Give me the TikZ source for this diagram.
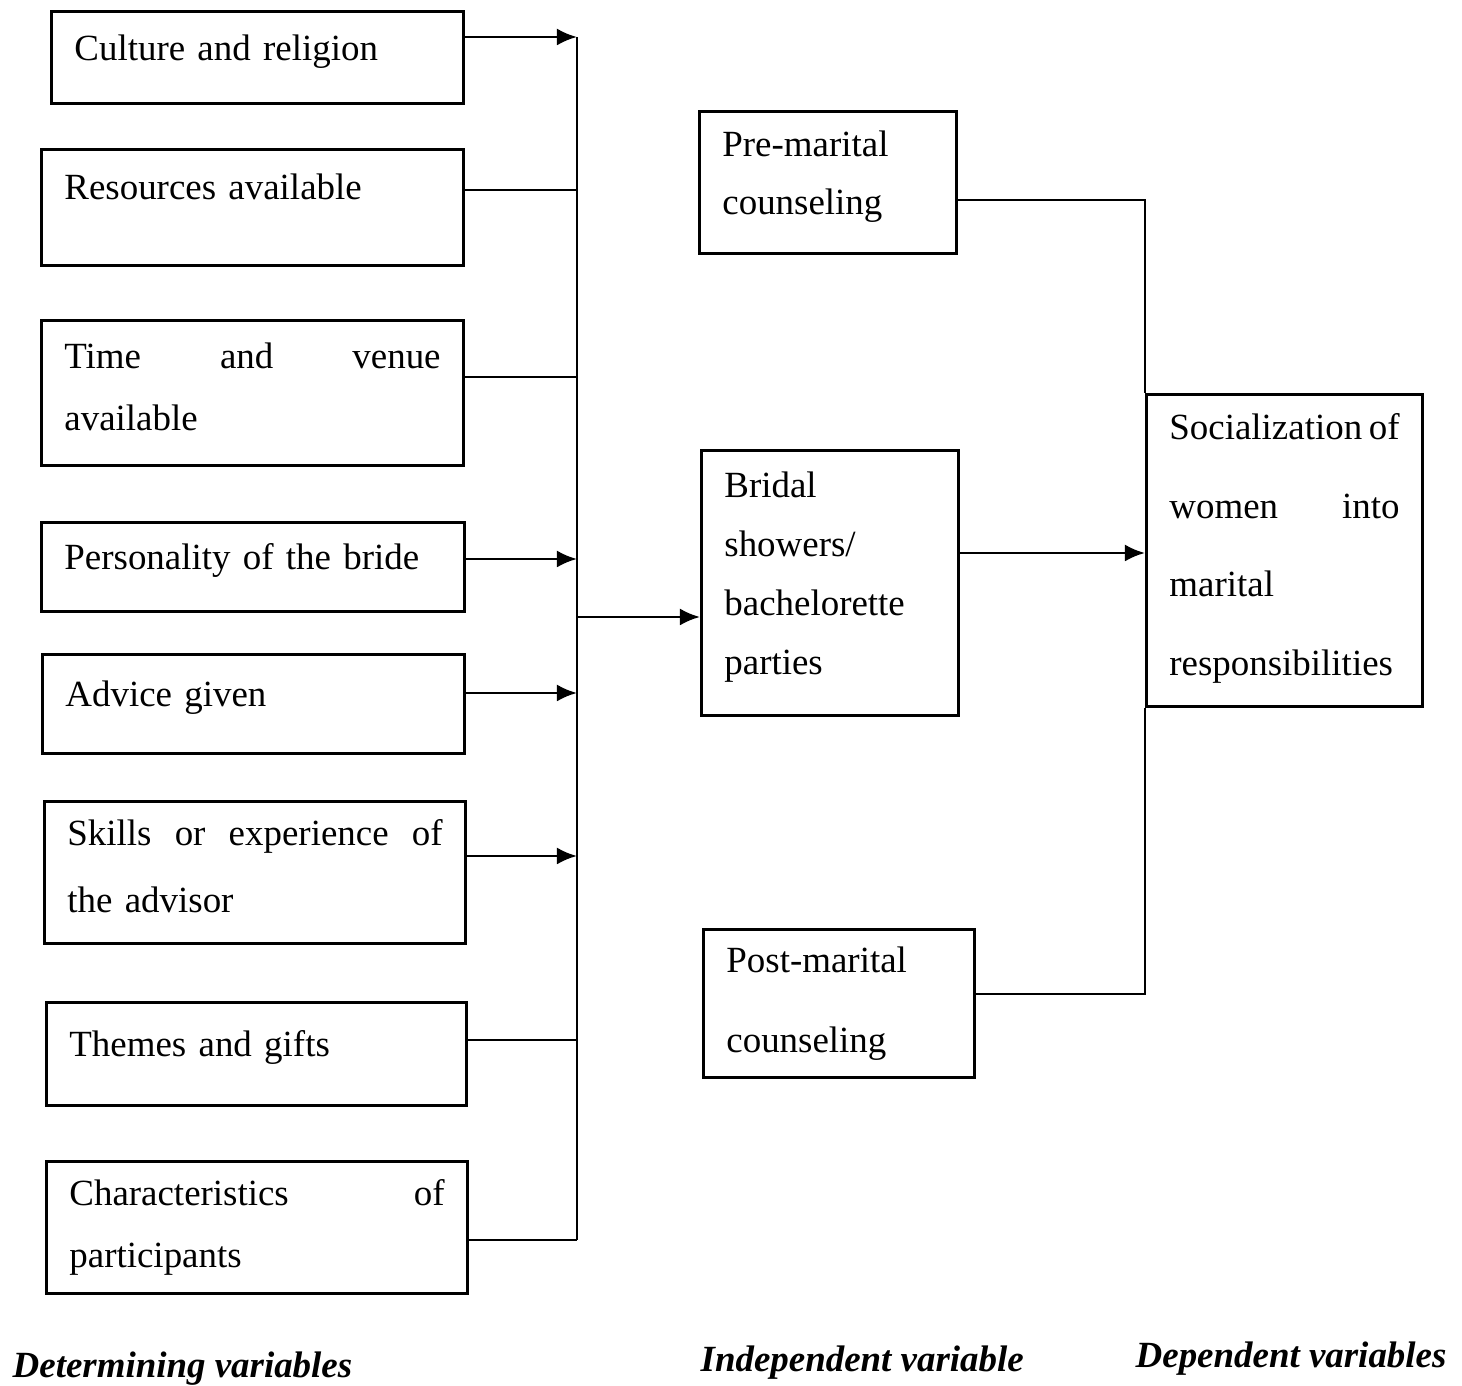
\documentclass[tikz,border=0pt]{standalone}
\usepackage{fontspec}
\setmainfont{Liberation Serif}
\usepackage{tikz}
\usetikzlibrary{arrows.meta,positioning,calc}
\newcommand{\spreadline}[2]{\makebox[#1][s]{#2}}
\newcommand{\boxtail}[1]{\endgraf\vspace*{#1}}

\begin{document}
\begin{tikzpicture}[x=0.01cm,y=-0.01cm,
  varbox/.style={draw, line width=0.8pt, anchor=north west, align=left, inner xsep=0.23cm, inner ysep=0pt, font=\fontsize{10.5}{17.6}\selectfont, execute at end node={\boxtail{#1}}},
  varbox/.default=0.12cm,
  link/.style={line width=0.8pt},
  arr/.style={link, -{Latex[length=0.2cm,width=0.17cm]}},
  caption/.style={anchor=base west, inner sep=0pt, font=\fontsize{10.5}{12}\selectfont\bfseries\itshape}]
\useasboundingbox (0,0) rectangle (1462,1386);
% determining variables
\node[varbox, text width=3.66cm, minimum height=0.92cm] (culture) at (50,10) {Culture and religion};
\node[varbox=0.42cm, text width=3.76cm, minimum height=1.16cm] (resources) at (40,148) {Resources available};
\node[varbox, text width=3.76cm, minimum height=1.45cm] (time) at (40,319) {\spreadline{3.76cm}{Time\hfill and\hfill venue}\\available};
\node[varbox, text width=3.77cm, minimum height=0.89cm] (bride) at (40,521) {Personality of the bride};
\node[varbox, text width=3.76cm, minimum height=0.99cm] (advice) at (41,653) {Advice given};
\node[varbox, text width=3.75cm, minimum height=1.42cm, font=\fontsize{10.5}{19}\selectfont] (skills) at (43,800) {\spreadline{3.75cm}{Skills\hfill or\hfill experience\hfill of}\\the advisor};
\node[varbox, text width=3.74cm, minimum height=1.03cm] (themes) at (45,1001) {Themes and gifts};
\node[varbox=0cm, text width=3.75cm, minimum height=1.32cm] (partic) at (45,1160) {\spreadline{3.75cm}{Characteristics\hfill of}\\participants};
% independent variable
\node[varbox, text width=2.11cm, minimum height=1.42cm, font=\fontsize{10.5}{16.6}\selectfont] (pre) at (698,110) {Pre-marital\\counseling};
\node[varbox, text width=2.11cm, minimum height=2.65cm, font=\fontsize{10.5}{16.8}\selectfont] (bridal) at (700,449) {Bridal\\showers/\\bachelorette\\parties};
\node[varbox=0cm, text width=2.25cm, minimum height=1.48cm, font=\fontsize{10.5}{22.6}\selectfont] (post) at (702,928) {Post-marital\\counseling};
% dependent variable
\node[varbox=0.04cm, text width=2.30cm, minimum height=3.12cm, font=\fontsize{10.5}{22.4}\selectfont] (social) at (1145,393) {\spreadline{2.30cm}{Socialization\hfill of}\\\spreadline{2.30cm}{women\hfill into}\\marital\\responsibilities};
% joints on the left bus
\coordinate (j1) at (577,37);
\coordinate (j2) at (577,190);
\coordinate (j3) at (577,377);
\coordinate (j4) at (577,559);
\coordinate (j5) at (577,693);
\coordinate (j6) at (577,856);
\coordinate (j7) at (577,1040);
\coordinate (j8) at (577,1240);
\coordinate (jm) at (577,617);
\draw[link] (j1) -- (j8);
\draw[arr] (culture.east |- j1) -- (j1);
\draw[link] (resources.east |- j2) -- (j2);
\draw[link] (time.east |- j3) -- (j3);
\draw[arr] (bride.east |- j4) -- (j4);
\draw[arr] (advice.east |- j5) -- (j5);
\draw[arr] (skills.east |- j6) -- (j6);
\draw[link] (themes.east |- j7) -- (j7);
\draw[link] (partic.east |- j8) -- (j8);
\draw[arr] (jm) -- (bridal.west |- jm);
% right side
\coordinate (k1) at (1145,200);
\coordinate (k2) at (1145,553);
\coordinate (k3) at (1145,994);
\draw[link] (pre.east |- k1) -- (k1) -- (social.north west);
\draw[arr] (bridal.east |- k2) -- (k2);
\draw[link] (post.east |- k3) -- (k3) -- (social.south west);
% captions
\node[caption] (detcap) at (12,1378) {Determining variables};
\node[caption] (indcap) at (700,1372) {Independent variable};
\node[caption] (depcap) at (1135,1368) {Dependent variables};
\end{tikzpicture}
\end{document}
